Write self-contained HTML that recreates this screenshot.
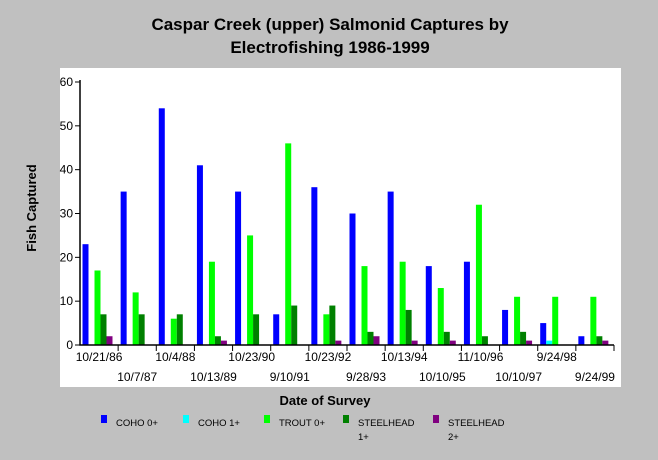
<!DOCTYPE html>
<html><head><meta charset="utf-8"><style>
body{margin:0;width:658px;height:455px;background:#c0c0c0;overflow:hidden;font-family:"Liberation Sans",sans-serif}
</style></head><body>
<svg width="658" height="455" xmlns="http://www.w3.org/2000/svg">
<rect x="60" y="68" width="561" height="319" fill="#fff"/>
<text x="330" y="30" text-anchor="middle" font-size="17" font-weight="bold">Caspar Creek (upper) Salmonid Captures by</text>
<text x="330" y="53" text-anchor="middle" font-size="17" font-weight="bold">Electrofishing 1986-1999</text>
<text transform="translate(36,208) rotate(-90)" text-anchor="middle" font-size="13" font-weight="bold">Fish Captured</text>
<text x="325" y="405" text-anchor="middle" font-size="13" font-weight="bold">Date of Survey</text>
<g id="plot"></g>
<g id="legend"></g>
</svg>
<script>
const categories=["10/21/86","10/7/87","10/4/88","10/13/89","10/23/90","9/10/91","10/23/92","9/28/93","10/13/94","10/10/95","11/10/96","10/10/97","9/24/98","9/24/99"];
const coho0=[23,35,54,41,35,7,36,30,35,18,19,8,5,2];
const coho1=[0,0,0,0,0,0,0,0,0,0,0,0,1,0];
const trout0=[17,12,6,19,25,46,7,18,19,13,32,11,11,11];
const steelhead1=[7,7,7,2,7,9,9,3,8,3,2,3,0,2];
const steelhead2=[2,0,0,1,0,0,1,2,1,1,0,1,0,1];
const yTicks=[0,10,20,30,40,50,60];
const seriesNames=["COHO 0+","COHO 1+","TROUT 0+","STEELHEAD 1+","STEELHEAD 2+"];
const ns="http://www.w3.org/2000/svg";
const X0=80,X1=614,Y0=345,Y1=82;
const gw=(X1-X0)/categories.length;
const y=v=>Y0-(v/60)*(Y0-Y1);
const xg=i=>X0+i*gw;
const plot=document.getElementById('plot');
function mk(t,a){const e=document.createElementNS(ns,t);for(const k in a)e.setAttribute(k,a[k]);return e;}
const series=[coho0,coho1,trout0,steelhead1,steelhead2];
const colors=["#0000ff","#00ffff","#00ff00","#008000","#800080"];
const keys=["coho-0","coho-1","trout-0","steelhead-1","steelhead-2"];
series.forEach((s,si)=>s.forEach((v,i)=>{
  if(v<=0)return;
  const r=mk('rect',{x:xg(i)+2.5+si*6,y:y(v),width:6,height:y(0)-y(v),fill:colors[si]});
  
  
  plot.appendChild(r);
}));
const ax=mk('path',{d:`M${X0},${Y1-2}V${Y0}H${X1}`,stroke:'#000',fill:'none','stroke-width':1.5});


plot.appendChild(ax);
yTicks.forEach(t=>{
  const l=mk('line',{x1:X0-5,x2:X0,y1:y(t),y2:y(t),stroke:'#000'});
  
  
  plot.appendChild(l);
  const tx=mk('text',{x:X0-7,y:y(t)+4,'text-anchor':'end','font-size':12});
  tx.textContent=t;
  
  
  plot.appendChild(tx);
});
categories.forEach((c,i)=>{
  const l=mk('line',{x1:xg(i+1),x2:xg(i+1),y1:Y0,y2:Y0+6,stroke:'#000'});
  
  
  plot.appendChild(l);
  const tx=mk('text',{x:xg(i)+gw/2,y:i%2?381:361,'text-anchor':'middle','font-size':12});
  tx.textContent=c;
  
  
  plot.appendChild(tx);
});
const leg=document.getElementById('legend');
const lx=[101,183,264,343,433];
seriesNames.forEach((n,i)=>{
  const r=mk('rect',{x:lx[i],y:415,width:6,height:8,fill:colors[i]});
  
  
  leg.appendChild(r);
  const parts=n.startsWith('STEELHEAD')?['STEELHEAD',n.split(' ')[1]]:[n];
  parts.forEach((p,j)=>{
    const t=mk('text',{x:lx[i]+15,y:426+j*14,'font-size':9.5});
    t.textContent=p;
    
    
    leg.appendChild(t);
  });
});
</script>
</body></html>
